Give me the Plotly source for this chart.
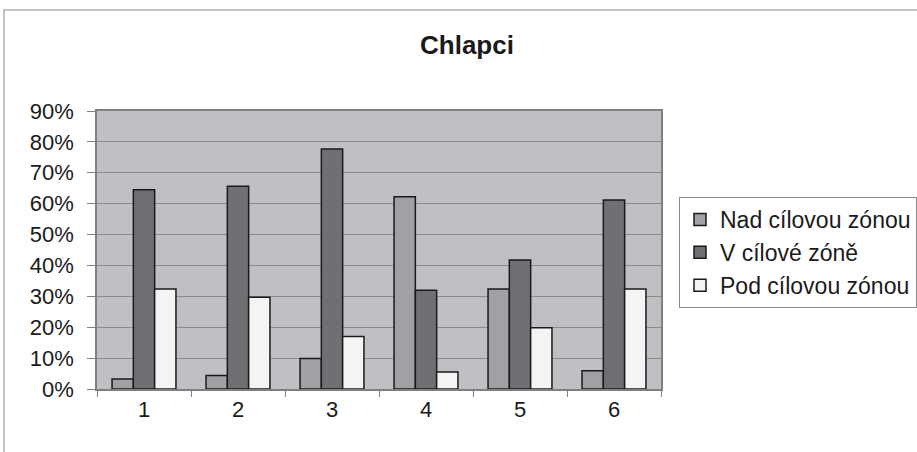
import plotly.graph_objects as go

categories = ["1", "2", "3", "4", "5", "6"]
nad = [3.2, 4.4, 9.9, 62.2, 32.4, 5.9]
v_zone = [64.5, 65.6, 77.7, 32.0, 41.8, 61.2]
pod = [32.4, 29.7, 17.0, 5.5, 19.8, 32.4]
series_names = ["Nad cílovou zónou", "V cílové zóně", "Pod cílovou zónou"]
colors = ["#a0a1a5", "#6f7074", "#f3f4f3"]
y_ticks = [0, 10, 20, 30, 40, 50, 60, 70, 80, 90]
y_tick_labels = [f"{t}%" for t in y_ticks]

fig = go.Figure()
for name, vals, col in zip(series_names, [nad, v_zone, pod], colors):
    fig.add_trace(go.Bar(x=categories, y=vals, name=name, marker=dict(color=col, line=dict(color="#1a1a1a", width=1.5))))

W, H = 917, 452
L, R, T, B = 97, 661, 111, 389
def px(x):
    return (x - L) / (R - L)
def py(y):
    return (B - y) / (B - T)

fig.update_layout(
    width=W, height=H,
    margin=dict(l=L, r=W - R, t=T, b=H - B, autoexpand=False),
    paper_bgcolor="white",
    plot_bgcolor="#bfc0c4",
    font=dict(family="Liberation Sans, Arial, sans-serif", color="#1a1a1a", size=22),
    title=dict(text="<b>Chlapci</b>", x=467 / W, xref="container", xanchor="center",
               y=1 - 45 / H, yref="container", yanchor="middle", font=dict(size=26)),
    barmode="group", bargap=0.32, bargroupgap=0,
    showlegend=True,
    legend=dict(x=px(679), y=py(197), xanchor="left", yanchor="top", bordercolor="#8a8a8a",
                borderwidth=1, bgcolor="white", font=dict(size=23), traceorder="normal",
                itemwidth=30),
    xaxis=dict(type="category", tickson="boundaries", ticks="outside", ticklen=6, tickcolor="#808080",
               showline=True, linecolor="#808080", linewidth=1.5, mirror=True, showgrid=False,
               tickfont=dict(size=22)),
    yaxis=dict(range=[0, 90], tickvals=y_ticks, ticktext=y_tick_labels, ticks="outside", ticklen=8,
               tickcolor="#808080", showline=True, linecolor="#808080", linewidth=1.5, mirror=True,
               showgrid=True, gridcolor="#8c8c8c", gridwidth=1, zeroline=False, ticklabelstandoff=9,
               tickfont=dict(size=22)),
    shapes=[dict(type="rect", xref="paper", yref="paper", x0=px(4), x1=px(930), y0=py(470), y1=py(10),
                 line=dict(color="#b0b0b0", width=1.5), fillcolor="rgba(0,0,0,0)", layer="below")],
)

fig.write_html("out.html", config={"displayModeBar": False},
               post_script="document.body.style.margin='0';document.body.style.overflow='hidden';")
